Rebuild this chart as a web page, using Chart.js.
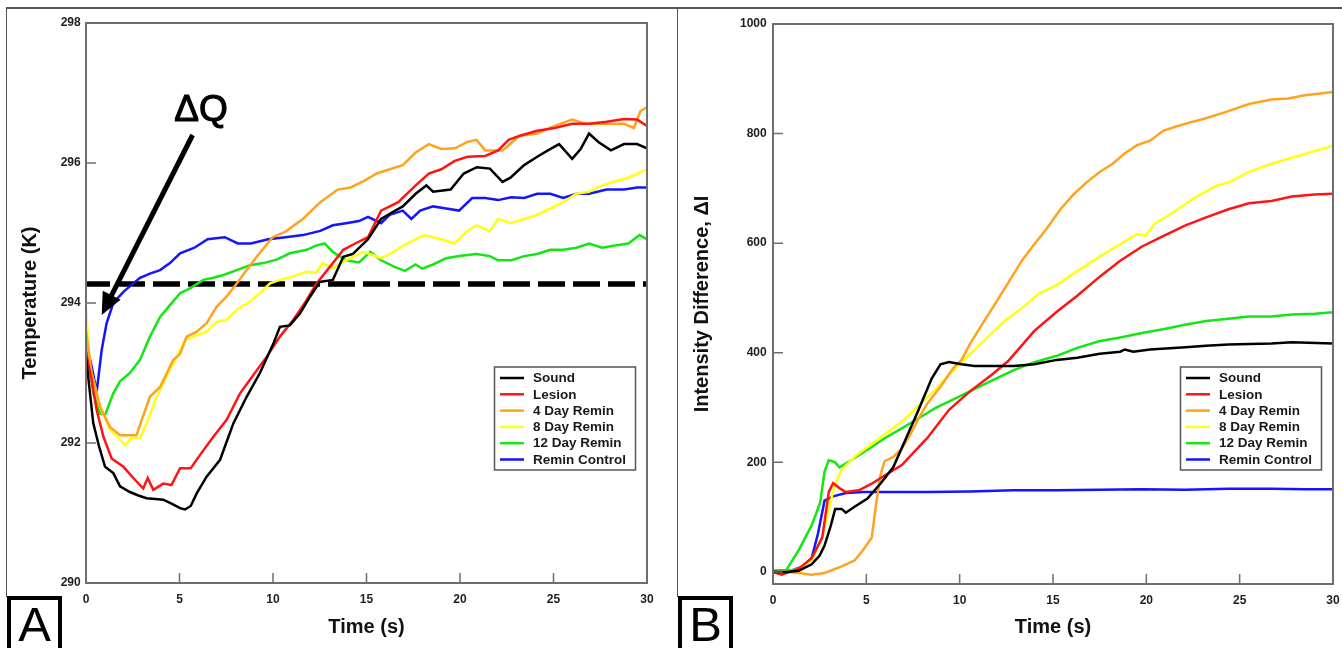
<!DOCTYPE html>
<html>
<head>
<meta charset="utf-8">
<script src="https://cdn.jsdelivr.net/npm/chart.js@4.4.1/dist/chart.umd.min.js"></script>
<style>
  html, body { margin: 0; padding: 0; background: #fff; }
  #fig { position: relative; width: 1342px; height: 648px; overflow: hidden; font-family: "Liberation Sans", Arial, sans-serif; }
  #fig canvas { position: absolute; top: 0; }
  #chartA { left: 0; }
  #chartB { left: 677px; }
  .rule { position: absolute; background: #555; }
  .tag { position: absolute; top: 596px; width: 55px; height: 60px; box-sizing: border-box; border: 4px solid #000; background: #fff;
         font-size: 49px; line-height: 49px; text-align: center; color: #000; }
</style>
</head>
<body>
<div id="fig">
  <canvas id="chartA" width="677" height="648"></canvas>
  <canvas id="chartB" width="665" height="648"></canvas>
  <div class="rule" style="left:6px; top:7px; width:1336px; height:1.5px"></div>
  <div class="rule" style="left:5.5px; top:7px; width:1.5px; height:590px"></div>
  <div class="rule" style="left:676.5px; top:7px; width:1.5px; height:590px"></div>
  <div class="tag" style="left:7px">A</div>
  <div class="tag" style="left:678px">B</div>
</div>
<script>
var FONT = 'Liberation Sans, Arial, sans-serif'
var labels = ['Sound', 'Lesion', '4 Day Remin', '8 Day Remin', '12 Day Remin', 'Remin Control']
var colors = ['#000000', '#ff1414', '#ffa31f', '#ffff14', '#14e614', '#1414ff']

var timeTicks = [0, 5, 10, 15, 20, 25, 30]
var tempTicks = [290, 292, 294, 296, 298]
var intensityTicks = [0, 200, 400, 600, 800, 1000]

// panel A : temperature (K) vs time (s)
var soundTimeA = [0, 0.39, 0.7, 1.02, 1.46, 1.82, 2.35, 2.8, 3.24, 3.7, 4.13, 4.6, 5.03, 5.3, 5.6, 5.92, 6.45, 7.17, 7.88, 8.59, 9.3, 10.02, 10.37, 10.9, 11.44, 11.98, 12.5, 13.2, 13.76, 14.27, 15.08, 15.78, 16.4, 16.94, 17.63, 18.2, 18.56, 19.5, 20.2, 20.9, 21.6, 22.27, 22.7, 23.43, 24.13, 24.7, 25.3, 26.0, 26.45, 26.9, 27.4, 28.07, 28.77, 29.47, 30]
var soundTemp = [293.23, 292.28, 291.95, 291.66, 291.57, 291.38, 291.30, 291.25, 291.21, 291.20, 291.19, 291.13, 291.07, 291.05, 291.10, 291.28, 291.52, 291.76, 292.28, 292.66, 293.0, 293.42, 293.66, 293.68, 293.85, 294.09, 294.3, 294.33, 294.66, 294.70, 294.91, 295.2, 295.3, 295.38, 295.56, 295.68, 295.59, 295.62, 295.85, 295.94, 295.92, 295.73, 295.79, 295.97, 296.09, 296.18, 296.27, 296.06, 296.2, 296.42, 296.3, 296.18, 296.27, 296.27, 296.21]
var lesionTimeA = [0, 0.3, 0.57, 0.93, 1.37, 2.0, 2.53, 3.06, 3.3, 3.6, 4.13, 4.57, 5.03, 5.6, 6.1, 6.81, 7.52, 8.24, 8.95, 9.66, 10.37, 11.09, 11.8, 12.3, 13.05, 13.76, 14.4, 15.08, 15.78, 16.7, 17.63, 18.33, 19.0, 19.72, 20.4, 21.35, 22.04, 22.6, 23.2, 24.13, 25.06, 26.0, 26.9, 27.84, 28.77, 29.47, 30]
var lesionTemp = [293.3, 292.9, 292.47, 292.09, 291.78, 291.66, 291.5, 291.35, 291.5, 291.33, 291.42, 291.4, 291.64, 291.64, 291.83, 292.09, 292.33, 292.71, 292.97, 293.23, 293.52, 293.76, 294.04, 294.27, 294.52, 294.76, 294.85, 294.94, 295.32, 295.44, 295.68, 295.85, 295.91, 296.03, 296.09, 296.1, 296.18, 296.33, 296.39, 296.46, 296.5, 296.56, 296.56, 296.59, 296.63, 296.62, 296.53]
var day4TimeA = [0, 0.3, 0.75, 1.28, 1.82, 2.35, 2.7, 2.98, 3.42, 3.96, 4.67, 5.03, 5.38, 5.92, 6.45, 6.99, 7.52, 8.06, 8.59, 9.13, 9.98, 10.67, 11.6, 12.53, 13.46, 14.15, 14.85, 15.55, 16.24, 16.94, 17.63, 18.33, 19.0, 19.72, 20.4, 20.88, 21.35, 22.27, 23.2, 24.13, 25.06, 26.0, 26.7, 27.84, 28.77, 29.3, 29.65, 30]
var day4Temp = [293.6, 293.0, 292.52, 292.23, 292.11, 292.11, 292.11, 292.33, 292.66, 292.8, 293.19, 293.27, 293.52, 293.59, 293.71, 293.95, 294.09, 294.28, 294.47, 294.66, 294.94, 295.02, 295.2, 295.44, 295.62, 295.65, 295.74, 295.85, 295.91, 295.97, 296.15, 296.27, 296.2, 296.21, 296.3, 296.33, 296.18, 296.18, 296.39, 296.42, 296.53, 296.62, 296.56, 296.56, 296.56, 296.5, 296.74, 296.8]
var day8TimeA = [0, 0.21, 0.75, 1.28, 1.73, 2.09, 2.44, 2.89, 3.24, 3.78, 4.31, 4.85, 5.29, 5.92, 6.45, 6.99, 7.52, 8.06, 8.77, 9.3, 9.84, 10.37, 11.09, 11.8, 12.3, 12.65, 13.2, 13.9, 14.85, 15.78, 16.24, 17.17, 18.1, 19.0, 19.72, 20.4, 20.88, 21.6, 22.04, 22.74, 23.43, 24.13, 24.83, 25.52, 26.22, 26.9, 27.6, 28.3, 29.0, 30]
var day8Temp = [293.93, 293.09, 292.52, 292.19, 292.07, 291.97, 292.07, 292.07, 292.28, 292.66, 292.95, 293.23, 293.47, 293.54, 293.59, 293.73, 293.76, 293.9, 294.02, 294.14, 294.28, 294.33, 294.38, 294.45, 294.43, 294.57, 294.5, 294.61, 294.73, 294.64, 294.7, 294.85, 294.97, 294.91, 294.85, 295.03, 295.11, 295.03, 295.2, 295.14, 295.2, 295.26, 295.35, 295.44, 295.56, 295.59, 295.68, 295.74, 295.79, 295.91]
var day12TimeA = [0, 0.39, 0.75, 1.02, 1.46, 1.82, 2.35, 2.89, 3.42, 3.96, 4.49, 5.03, 5.56, 6.27, 6.81, 7.35, 8.06, 8.77, 9.48, 10.2, 10.9, 11.8, 12.3, 12.76, 13.2, 13.9, 14.6, 15.2, 15.78, 16.47, 17.05, 17.63, 17.98, 18.56, 19.26, 19.95, 20.88, 21.6, 22.04, 22.74, 23.43, 24.13, 24.83, 25.52, 26.22, 26.9, 27.6, 28.3, 29.0, 29.6, 30]
var day12Temp = [293.52, 292.71, 292.42, 292.4, 292.71, 292.88, 293.0, 293.19, 293.52, 293.8, 293.97, 294.14, 294.21, 294.33, 294.36, 294.4, 294.47, 294.54, 294.57, 294.62, 294.71, 294.76, 294.82, 294.85, 294.73, 294.61, 294.58, 294.73, 294.61, 294.52, 294.46, 294.55, 294.49, 294.55, 294.64, 294.67, 294.7, 294.67, 294.61, 294.61, 294.67, 294.7, 294.76, 294.76, 294.79, 294.85, 294.79, 294.82, 294.85, 294.97, 294.91]
var controlTimeA = [0, 0.3, 0.57, 0.84, 1.1, 1.46, 2.0, 2.53, 2.89, 3.42, 3.96, 4.49, 5.03, 5.8, 6.5, 7.42, 8.12, 8.82, 9.74, 10.67, 11.6, 12.53, 13.2, 13.9, 14.6, 15.08, 15.78, 16.24, 16.94, 17.4, 17.87, 18.56, 19.26, 19.95, 20.65, 21.35, 22.04, 22.74, 23.43, 24.13, 24.83, 25.52, 26.22, 26.9, 27.84, 28.77, 29.47, 30]
var controlTemp = [293.43, 293.1, 292.73, 293.33, 293.71, 294.0, 294.16, 294.28, 294.36, 294.42, 294.47, 294.57, 294.71, 294.79, 294.91, 294.94, 294.85, 294.85, 294.91, 294.94, 294.97, 295.03, 295.11, 295.14, 295.17, 295.23, 295.14, 295.26, 295.32, 295.2, 295.32, 295.38, 295.35, 295.32, 295.5, 295.5, 295.47, 295.51, 295.5, 295.56, 295.56, 295.5, 295.56, 295.56, 295.62, 295.62, 295.65, 295.65]
var baselineTemp = 294.27
// arrow pointing at the dip, in data units: tail, tip, and where the label sits
var deltaQTail = [5.7, 296.4]
var deltaQTip = [0.84, 293.83]
var deltaQLabel = [6.15, 296.74]

// panel B : intensity difference vs time (s)
var soundTimeB = [0, 0.7, 1.38, 2.07, 2.5, 2.76, 3.1, 3.33, 3.68, 3.9, 4.37, 5.06, 5.75, 6.44, 7.13, 7.8, 8.5, 8.97, 9.43, 10.1, 10.8, 11.7, 12.9, 14.0, 15.2, 16.3, 17.5, 18.6, 18.85, 19.3, 20.2, 22.1, 23.2, 24.4, 26.7, 27.8, 30]
var soundInt = [0, 0, 2, 14, 30, 48, 85, 115, 115, 108, 119, 134, 161, 191, 244, 296, 353, 379, 383, 379, 376, 376, 376, 379, 387, 391, 398, 402, 406, 402, 406, 410, 413, 415, 417, 419, 417]
var lesionTimeB = [0, 0.46, 1.38, 2.07, 2.64, 2.99, 3.22, 3.56, 3.9, 4.6, 5.29, 5.98, 6.9, 8.28, 9.43, 10.57, 11.72, 12.6, 14.0, 15.17, 16.3, 17.47, 18.6, 19.77, 20.9, 22.07, 23.2, 24.4, 25.5, 26.7, 27.8, 29.0, 30]
var lesionInt = [0, -5, 6, 25, 63, 146, 162, 153, 146, 149, 161, 176, 195, 245, 296, 330, 360, 385, 440, 474, 504, 538, 568, 594, 613, 632, 647, 662, 673, 677, 685, 689, 690]
var day4TimeB = [0, 0.7, 1.38, 2.07, 2.76, 3.68, 4.37, 4.83, 5.29, 5.52, 5.75, 5.98, 6.44, 6.9, 7.36, 7.82, 8.28, 8.97, 9.66, 10.1, 10.57, 11.26, 11.95, 12.64, 13.33, 14.0, 14.7, 15.4, 16.1, 16.8, 17.5, 18.2, 18.85, 19.5, 20.2, 20.9, 21.6, 22.3, 23.2, 24.4, 25.5, 26.7, 27.6, 28.5, 30]
var day4Int = [0, 0, -2, -5, -2, 10, 21, 40, 63, 123, 176, 202, 210, 225, 251, 281, 308, 338, 372, 387, 417, 455, 492, 530, 568, 598, 628, 662, 689, 711, 730, 745, 764, 779, 787, 805, 813, 820, 828, 841, 854, 862, 864, 870, 876]
var day8TimeB = [0, 0.7, 1.38, 2.07, 2.64, 2.99, 3.33, 3.68, 4.37, 5.06, 5.98, 6.9, 7.82, 8.74, 9.66, 10.57, 11.49, 12.4, 13.33, 14.25, 15.17, 16.3, 17.47, 18.6, 19.5, 19.95, 20.46, 21.4, 22.5, 23.7, 24.4, 25.5, 26.7, 27.8, 29.0, 30]
var day8Int = [0, 0, 6, 21, 63, 115, 161, 187, 210, 228, 251, 274, 304, 334, 368, 398, 428, 458, 481, 508, 523, 549, 575, 598, 617, 613, 636, 655, 681, 704, 711, 730, 745, 756, 768, 778]
var day12TimeB = [0, 0.69, 1.38, 2.07, 2.53, 2.76, 2.99, 3.33, 3.56, 3.9, 4.6, 5.29, 5.98, 6.9, 7.82, 8.74, 9.66, 10.57, 11.72, 12.87, 14.0, 15.17, 16.3, 17.47, 18.6, 19.77, 20.9, 22.07, 23.2, 24.4, 25.5, 26.7, 27.8, 29.0, 30]
var day12Int = [0, 2, 40, 85, 127, 183, 204, 200, 191, 198, 213, 228, 244, 262, 281, 300, 315, 330, 349, 368, 383, 394, 409, 421, 428, 436, 443, 451, 458, 462, 466, 466, 470, 471, 474]
var controlTimeB = [0, 0.92, 1.6, 2.07, 2.41, 2.76, 3.22, 3.9, 4.83, 5.98, 8.28, 10.57, 12.87, 15.17, 17.47, 19.77, 22.07, 24.4, 26.7, 28.5, 30]
var controlInt = [2, 2, 10, 25, 70, 130, 138, 144, 146, 146, 146, 147, 149, 149, 150, 151, 150, 152, 152, 151, 151]

function series (i, xs, ys) {
  return {
    label: labels[i],
    data: xs.map(function (x, k) { return {x: x, y: ys[k]} }),
    borderColor: colors[i],
    borderWidth: 2.5,
    pointRadius: 0,
    fill: false
  }
}

function fixedTicks (values) {
  return function (scale) { scale.ticks = values.map(function (v) { return {value: v} }) }
}
function plainLabel (v) { return String(v) }

var tickFont = {family: FONT, size: 12, weight: 'bold'}
var titleFont = {family: FONT, size: 20, weight: 'bold'}

// frame round the plot plus short inward tick marks
var framePlugin = {
  id: 'frame',
  afterDatasetsDraw: function (chart) {
    var ctx = chart.ctx
    var a = chart.chartArea
    var xs = chart.scales.x
    var ys = chart.scales.y
    ctx.save()
    ctx.strokeStyle = '#6e6e6e'
    ctx.lineWidth = 1.5
    ctx.beginPath()
    xs.ticks.forEach(function (t) {
      var px = xs.getPixelForValue(t.value)
      ctx.moveTo(px, a.bottom)
      ctx.lineTo(px, a.bottom - 10)
    })
    ys.ticks.forEach(function (t) {
      var py = ys.getPixelForValue(t.value)
      ctx.moveTo(a.left, py)
      ctx.lineTo(a.left + 10, py)
    })
    ctx.stroke()
    ctx.lineWidth = 2
    ctx.strokeRect(a.left, a.top, a.right - a.left, a.bottom - a.top)
    ctx.restore()
  }
}

// boxed legend inside the plot, lower right
var boxLegendPlugin = {
  id: 'boxLegend',
  afterDraw: function (chart, args, opts) {
    var ctx = chart.ctx
    var a = chart.chartArea
    var x = a.right - opts.right - opts.width
    var y = opts.top
    ctx.save()
    ctx.fillStyle = '#fff'
    ctx.fillRect(x, y, opts.width, opts.height)
    ctx.strokeStyle = '#555'
    ctx.lineWidth = 1.5
    ctx.strokeRect(x, y, opts.width, opts.height)
    ctx.font = 'bold 13.5px ' + FONT
    ctx.textBaseline = 'middle'
    ctx.fillStyle = '#1a1a1a'
    chart.data.datasets.forEach(function (ds, i) {
      if (!ds.label) return
      var ry = y + 11 + i * 16.3
      ctx.strokeStyle = ds.borderColor
      ctx.lineWidth = 2.5
      ctx.beginPath()
      ctx.moveTo(x + 5.5, ry)
      ctx.lineTo(x + 29.5, ry)
      ctx.stroke()
      ctx.fillText(ds.label, x + 38.5, ry + 0.5)
    })
    ctx.restore()
  }
}

// the ΔQ arrow of panel A
var deltaQPlugin = {
  id: 'deltaQ',
  afterDatasetsDraw: function (chart) {
    var ctx = chart.ctx
    var xs = chart.scales.x
    var ys = chart.scales.y
    var x0 = xs.getPixelForValue(deltaQTail[0]), y0 = ys.getPixelForValue(deltaQTail[1])
    var x1 = xs.getPixelForValue(deltaQTip[0]), y1 = ys.getPixelForValue(deltaQTip[1])
    var len = Math.sqrt((x1 - x0) * (x1 - x0) + (y1 - y0) * (y1 - y0))
    var ux = (x1 - x0) / len, uy = (y1 - y0) / len
    var head = 22, half = 10
    ctx.save()
    ctx.strokeStyle = '#000'
    ctx.fillStyle = '#000'
    ctx.lineWidth = 5
    ctx.beginPath()
    ctx.moveTo(x0, y0)
    ctx.lineTo(x1 - ux * head * 0.8, y1 - uy * head * 0.8)
    ctx.stroke()
    ctx.beginPath()
    ctx.moveTo(x1, y1)
    ctx.lineTo(x1 - ux * head - uy * half, y1 - uy * head + ux * half)
    ctx.lineTo(x1 - ux * head + uy * half, y1 - uy * head - ux * half)
    ctx.closePath()
    ctx.fill()
    ctx.font = '37px ' + FONT
    ctx.textAlign = 'center'
    ctx.textBaseline = 'middle'
    var lx = xs.getPixelForValue(deltaQLabel[0]), ly = ys.getPixelForValue(deltaQLabel[1])
    ctx.lineWidth = 1.1
    ctx.fillText('ΔQ', lx, ly)
    ctx.strokeText('ΔQ', lx, ly)
    ctx.restore()
  }
}

function makeChart (id, opts) {
  return new Chart(document.getElementById(id), {
    type: 'line',
    data: {datasets: opts.datasets},
    options: {
      responsive: false,
      animation: false,
      devicePixelRatio: 1,
      events: [],
      layout: {padding: opts.padding},
      plugins: {
        legend: {display: false},
        tooltip: {enabled: false},
        boxLegend: {top: 367, right: 11.5, width: 141, height: 103}
      },
      scales: {
        x: {
          type: 'linear', min: 0, max: 30,
          afterBuildTicks: fixedTicks(timeTicks),
          grid: {display: false, drawTicks: false, tickLength: 0},
          border: {display: false},
          ticks: {font: tickFont, color: '#1e1e1e', padding: 9, maxRotation: 0, autoSkip: false, callback: plainLabel},
          title: {display: true, text: 'Time (s)', font: titleFont, color: '#111', padding: {top: 0, bottom: 9}},
          afterFit: function (s) {
            s.height = opts.xHeight
            s.paddingLeft = 0
            s.paddingRight = 0
          }
        },
        y: {
          type: 'linear', min: opts.yMin, max: opts.yMax,
          afterBuildTicks: fixedTicks(opts.yTicks),
          grid: {display: false, drawTicks: false, tickLength: 0},
          border: {display: false},
          ticks: {font: tickFont, color: '#1e1e1e', padding: opts.yTickPad, autoSkip: false, callback: plainLabel},
          title: {display: true, text: opts.yTitle, font: titleFont, color: '#111', padding: {top: opts.yTitlePad, bottom: 0}},
          afterFit: function (s) {
            s.width = opts.yWidth
            s.paddingTop = 0
            s.paddingBottom = 0
          }
        }
      }
    },
    plugins: [framePlugin, boxLegendPlugin].concat(opts.extra || [])
  })
}

var baselineA = {
  label: '',
  data: [{x: 0, y: baselineTemp}, {x: 30, y: baselineTemp}],
  borderColor: '#000',
  borderWidth: 5.5,
  borderDash: [27, 8],
  borderDashOffset: 3,
  borderCapStyle: 'butt',
  pointRadius: 0
}

window.chartA = makeChart('chartA', {
  datasets: [
    series(0, soundTimeA, soundTemp),
    series(1, lesionTimeA, lesionTemp),
    series(2, day4TimeA, day4Temp),
    series(3, day8TimeA, day8Temp),
    series(4, day12TimeA, day12Temp),
    series(5, controlTimeA, controlTemp),
    baselineA
  ],
  padding: {top: 23, right: 30, left: 0, bottom: 0},
  yMin: 290, yMax: 298, yTicks: tempTicks,
  yTitle: 'Temperature (K)', yTitlePad: 18, yTickPad: 5.3,
  yWidth: 86, xHeight: 65,
  extra: [deltaQPlugin]
})

window.chartB = makeChart('chartB', {
  datasets: [
    series(0, soundTimeB, soundInt),
    series(1, lesionTimeB, lesionInt),
    series(2, day4TimeB, day4Int),
    series(3, day8TimeB, day8Int),
    series(4, day12TimeB, day12Int),
    series(5, controlTimeB, controlInt)
  ],
  padding: {top: 24, right: 9, left: 0, bottom: 0},
  yMin: -22, yMax: 1000, yTicks: intensityTicks,
  yTitle: 'Intensity Difference, ΔI', yTitlePad: 13, yTickPad: 6.3,
  yWidth: 96, xHeight: 64
})
</script>
</body>
</html>
